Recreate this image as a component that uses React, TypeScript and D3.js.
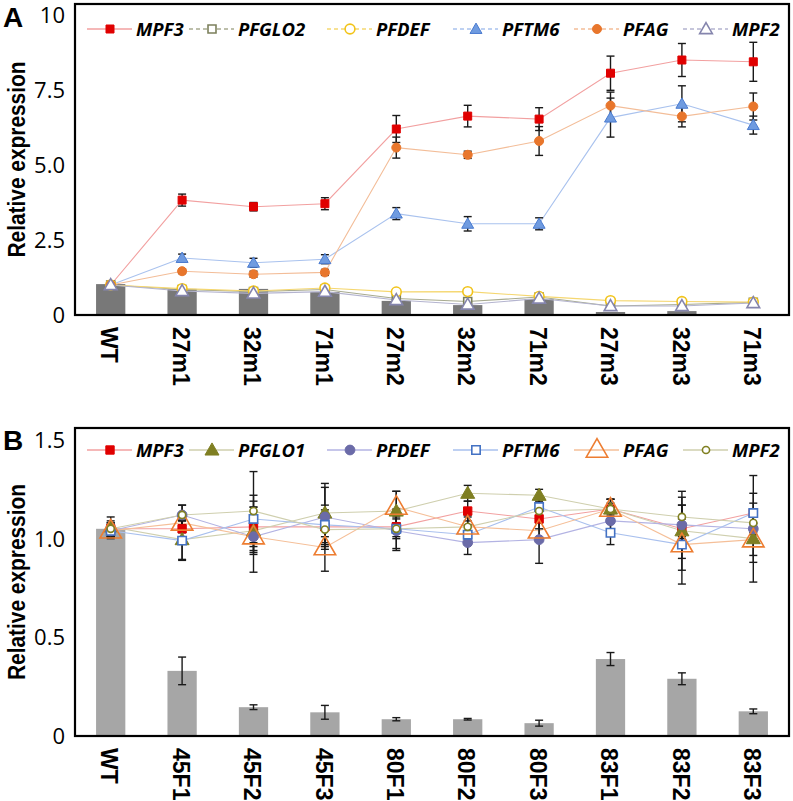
import React from "react";
import * as d3 from "d3";

// ---------- Data: panel A ----------
const catsA = ["WT", "27m1", "32m1", "71m1", "27m2", "32m2", "71m2", "27m3", "32m3", "71m3"];
const barA = [1.03, 0.87, 0.87, 0.77, 0.47, 0.33, 0.53, 0.1, 0.13, 0.03];
const mpf3A = [1.0, 3.83, 3.61, 3.71, 6.2, 6.63, 6.53, 8.06, 8.5, 8.44];
const mpf3AErr = [0.03, 0.2, 0.14, 0.2, 0.45, 0.36, 0.38, 0.57, 0.55, 0.65];
const pfglo2A = [1.0, 0.85, 0.78, 0.85, 0.55, 0.45, 0.6, 0.3, 0.35, 0.42];
const pfglo2AErr = [0.03, 0.08, 0.12, 0.15, 0.06, 0.12, 0.06, 0.1, 0.12, 0.06];
const pfdefA = [1.0, 0.88, 0.8, 0.9, 0.77, 0.78, 0.62, 0.48, 0.45, 0.43];
const pfdefAErr = [0.03, 0.06, 0.1, 0.1, 0.08, 0.1, 0.06, 0.08, 0.1, 0.05];
const pftm6A = [1.0, 1.9, 1.74, 1.86, 3.38, 3.04, 3.04, 6.58, 7.04, 6.33];
const pftm6AErr = [0.03, 0.13, 0.15, 0.15, 0.2, 0.24, 0.2, 0.65, 0.6, 0.3];
const pfagA = [1.0, 1.46, 1.36, 1.42, 5.58, 5.34, 5.8, 6.98, 6.62, 6.95];
const pfagAErr = [0.03, 0.08, 0.1, 0.1, 0.35, 0.12, 0.48, 0.45, 0.35, 0.45];
const mpf2A = [1.0, 0.8, 0.72, 0.78, 0.5, 0.35, 0.55, 0.3, 0.3, 0.4];
const mpf2AErr = [0.03, 0.05, 0.08, 0.1, 0.05, 0.1, 0.06, 0.1, 0.12, 0.05];
const ticksA = [0, 2.5, 5, 7.5, 10];
const tickLabelsA = ["0", "2.5", "5.0", "7.5", "10"];

// ---------- Data: panel B ----------
const catsB = ["WT", "45F1", "45F2", "45F3", "80F1", "80F2", "80F3", "83F1", "83F2", "83F3"];
const barB = [1.05, 0.33, 0.146, 0.12, 0.085, 0.085, 0.065, 0.39, 0.29, 0.125];
const barBErr = [0.03, 0.07, 0.012, 0.035, 0.008, 0.004, 0.015, 0.033, 0.03, 0.012];
const mpf3B = [1.05, 1.05, 1.06, 1.06, 1.06, 1.14, 1.1, 1.15, 1.05, 1.13];
const mpf3BErr = [0.03, 0.04, 0.1, 0.05, 0.05, 0.05, 0.05, 0.03, 0.05, 0.05];
const pfglo1B = [1.06, 0.995, 1.04, 1.13, 1.14, 1.23, 1.22, 1.15, 1.04, 1.0];
const pfglo1BErr = [0.05, 0.1, 0.12, 0.15, 0.1, 0.04, 0.03, 0.05, 0.2, 0.12];
const pfdefB = [1.04, 1.12, 1.01, 1.11, 1.04, 0.98, 0.995, 1.09, 1.07, 1.05];
const pfdefBErr = [0.04, 0.05, 0.18, 0.15, 0.1, 0.06, 0.12, 0.05, 0.1, 0.27];
const pftm6B = [1.04, 0.99, 1.1, 1.07, 1.05, 1.02, 1.16, 1.03, 0.97, 1.13];
const pftm6BErr = [0.03, 0.1, 0.12, 0.1, 0.05, 0.05, 0.05, 0.06, 0.07, 0.1];
const pfagB = [1.04, 1.08, 1.01, 0.955, 1.16, 1.06, 1.04, 1.15, 0.97, 0.995];
const pfagBErr = [0.03, 0.05, 0.08, 0.12, 0.08, 0.05, 0.05, 0.05, 0.2, 0.08];
const mpf2B = [1.05, 1.12, 1.14, 1.046, 1.05, 1.06, 1.14, 1.15, 1.11, 1.08];
const mpf2BErr = [0.04, 0.05, 0.2, 0.1, 0.1, 0.06, 0.06, 0.05, 0.1, 0.06];
const ticksB = [0, 0.5, 1, 1.5];
const tickLabelsB = ["0", "0.5", "1.0", "1.5"];

type Shape = "square" | "circle" | "triangle";
interface Series {
  name: string;
  values: number[];
  err: number[];
  shape: Shape;
  size: number;
  fill: string;
  stroke: string;
  line: string;
  dashed: boolean;
}

const seriesA: Series[] = [
  { name: "MPF3", values: mpf3A, err: mpf3AErr, shape: "square", size: 64, fill: "#e00000", stroke: "#e00000", line: "#f2a0a0", dashed: false },
  { name: "PFGLO2", values: pfglo2A, err: pfglo2AErr, shape: "square", size: 64, fill: "#ffffff", stroke: "#7c805c", line: "#a8ab90", dashed: true },
  { name: "PFDEF", values: pfdefA, err: pfdefAErr, shape: "circle", size: 75, fill: "#ffffff", stroke: "#f2c41a", line: "#f5d770", dashed: true },
  { name: "PFTM6", values: pftm6A, err: pftm6AErr, shape: "triangle", size: 62, fill: "#6f9be0", stroke: "#4a7bd0", line: "#a9c2ee", dashed: true },
  { name: "PFAG", values: pfagA, err: pfagAErr, shape: "circle", size: 64, fill: "#e8762c", stroke: "#e8762c", line: "#f3bd98", dashed: true },
  { name: "MPF2", values: mpf2A, err: mpf2AErr, shape: "triangle", size: 70, fill: "#ffffff", stroke: "#8585ad", line: "#b4b4cf", dashed: true },
];

const seriesB: Series[] = [
  { name: "MPF3", values: mpf3B, err: mpf3BErr, shape: "square", size: 70, fill: "#e00000", stroke: "#e00000", line: "#f2a0a0", dashed: false },
  { name: "PFGLO1", values: pfglo1B, err: pfglo1BErr, shape: "triangle", size: 85, fill: "#7f7f22", stroke: "#7f7f22", line: "#cfcfae", dashed: false },
  { name: "PFDEF", values: pfdefB, err: pfdefBErr, shape: "circle", size: 75, fill: "#6b6ba8", stroke: "#6b6ba8", line: "#b3b3e3", dashed: false },
  { name: "PFTM6", values: pftm6B, err: pftm6BErr, shape: "square", size: 70, fill: "#ffffff", stroke: "#4472c4", line: "#a9c0ee", dashed: false },
  { name: "PFAG", values: pfagB, err: pfagBErr, shape: "triangle", size: 200, fill: "none", stroke: "#ed7d31", line: "#f5bf98", dashed: false },
  { name: "MPF2", values: mpf2B, err: mpf2BErr, shape: "circle", size: 40, fill: "#ffffff", stroke: "#808022", line: "#cfcfae", dashed: false },
];

const legendX = [110, 212, 350, 476, 597, 706];
const LEFT = 75;
const RIGHT = 789;

const symType = (s: Shape) =>
  s === "square" ? d3.symbolSquare : s === "circle" ? d3.symbolCircle : d3.symbolTriangle;

function Marker({ s, x, y }: { s: Series; x: number; y: number }) {
  const p = d3.symbol().type(symType(s.shape)).size(s.size)() as string;
  const dy = s.shape === "triangle" ? 1 : 0;
  return (
    <path
      d={p}
      transform={`translate(${x},${y + dy})`}
      fill={s.fill}
      stroke={s.stroke}
      strokeWidth={s.fill === "#ffffff" || s.fill === "none" ? 1.6 : 1}
    />
  );
}

function ErrBar({ x, y0, y1 }: { x: number; y0: number; y1: number }) {
  const c = 4;
  return (
    <g stroke="#1a1a1a" strokeWidth={1.4}>
      <line x1={x} x2={x} y1={y0} y2={y1} />
      <line x1={x - c} x2={x + c} y1={y0} y2={y0} />
      <line x1={x - c} x2={x + c} y1={y1} y2={y1} />
    </g>
  );
}

interface PanelProps {
  label: string;
  cats: string[];
  bars: number[];
  barErr?: number[];
  barColor: string;
  series: Series[];
  top: number;
  bottom: number;
  tickTopVal: number;
  tickTopY: number;
  ticks: number[];
  tickLabels: string[];
  legendY: number;
  labelY: number;
}

function Panel(p: PanelProps) {
  const x = d3.scaleBand<string>().domain(p.cats).range([LEFT, RIGHT]).paddingInner(0.59).paddingOuter(0.295);
  const y = d3.scaleLinear().domain([0, p.tickTopVal]).range([p.bottom, p.tickTopY]);
  const cx = (c: string) => (x(c) as number) + x.bandwidth() / 2;
  const font = "'Open Sans', 'Noto Sans', sans-serif";
  const boldFont = "'Liberation Sans', Arial, sans-serif";
  return (
    <g>
      {/* bars */}
      {p.cats.map((c, i) => (
        <rect key={c} x={x(c)} y={y(p.bars[i])} width={x.bandwidth()} height={p.bottom - y(p.bars[i])} fill={p.barColor} />
      ))}
      {p.barErr &&
        p.cats.map((c, i) => (
          <ErrBar key={"be" + c} x={cx(c)} y0={y(p.bars[i] + p.barErr![i])} y1={y(p.bars[i] - p.barErr![i])} />
        ))}
      {/* lines */}
      {p.series.map((s) => {
        const line = d3
          .line<number>()
          .x((_, i) => cx(p.cats[i]))
          .y((v) => y(v));
        return <path key={"l" + s.name} d={line(s.values) as string} fill="none" stroke={s.line} strokeWidth={1.1} />;
      })}
      {/* error bars */}
      {p.series.map((s) =>
        s.values.map((v, i) => (
          <ErrBar key={"e" + s.name + i} x={cx(p.cats[i])} y0={y(v + s.err[i])} y1={y(v - s.err[i])} />
        ))
      )}
      {/* markers */}
      {p.series.map((s) =>
        s.values.map((v, i) => <Marker key={"m" + s.name + i} s={s} x={cx(p.cats[i])} y={y(v)} />)
      )}
      {/* frame */}
      <rect x={LEFT} y={p.top} width={RIGHT - LEFT} height={p.bottom - p.top} fill="none" stroke="#000" strokeWidth={2.2} />
      {/* y ticks */}
      {p.ticks.map((t, i) => (
        <text key={"t" + t} x={65} y={y(t)} dy="0.36em" textAnchor="end" fontFamily={font} fontSize={22} fill="#000">
          {p.tickLabels[i]}
        </text>
      ))}
      {/* x labels */}
      {p.cats.map((c) => (
        <text
          key={"x" + c}
          transform={`translate(${cx(c) - 1},${p.bottom + 12}) rotate(90)`}
          dy="0.36em"
          textAnchor="start"
          fontFamily={boldFont}
          fontWeight="bold"
          fontSize={23}
          fill="#000"
        >
          {c}
        </text>
      ))}
      {/* y label */}
      <text
        transform={`translate(25,${(p.top + p.bottom) / 2}) rotate(-90)`}
        textAnchor="middle"
        fontFamily={boldFont}
        fontWeight="bold"
        fontSize={23}
        textLength={196}
        lengthAdjust="spacingAndGlyphs"
        fill="#000"
      >
        Relative expression
      </text>
      {/* panel label */}
      <text x={3} y={p.labelY} fontFamily={boldFont} fontWeight="bold" fontSize={28} fill="#000">
        {p.label}
      </text>
      {/* legend */}
      {p.series.map((s, i) => {
        const m = legendX[i];
        return (
          <g key={"lg" + s.name}>
            <line
              x1={m - 23}
              x2={m + 22}
              y1={p.legendY}
              y2={p.legendY}
              stroke={s.line}
              strokeWidth={1.3}
              strokeDasharray={s.dashed ? "4,3" : undefined}
            />
            <Marker s={s} x={m} y={p.legendY} />
            <text
              x={m + 26}
              y={p.legendY}
              dy="0.36em"
              fontFamily={font}
              fontWeight="bold"
              fontStyle="italic"
              fontSize={18.5}
              fill="#000"
            >
              {s.name}
            </text>
          </g>
        );
      })}
    </g>
  );
}

export default function App() {
  return (
    <svg
      width={793}
      height={801}
      style={{ position: "absolute", left: 0, top: 0, background: "#fff" }}
      xmlns="http://www.w3.org/2000/svg"
    >
      <rect width={793} height={801} fill="#fff" />
      <Panel
        label="A"
        cats={catsA}
        bars={barA}
        barColor="#787878"
        series={seriesA}
        top={4}
        bottom={315}
        tickTopVal={10}
        tickTopY={15}
        ticks={ticksA}
        tickLabels={tickLabelsA}
        legendY={29}
        labelY={27}
      />
      <Panel
        label="B"
        cats={catsB}
        bars={barB}
        barErr={barBErr}
        barColor="#a6a6a6"
        series={seriesB}
        top={428}
        bottom={736}
        tickTopVal={1.5}
        tickTopY={440}
        ticks={ticksB}
        tickLabels={tickLabelsB}
        legendY={450}
        labelY={450}
      />
    </svg>
  );
}
